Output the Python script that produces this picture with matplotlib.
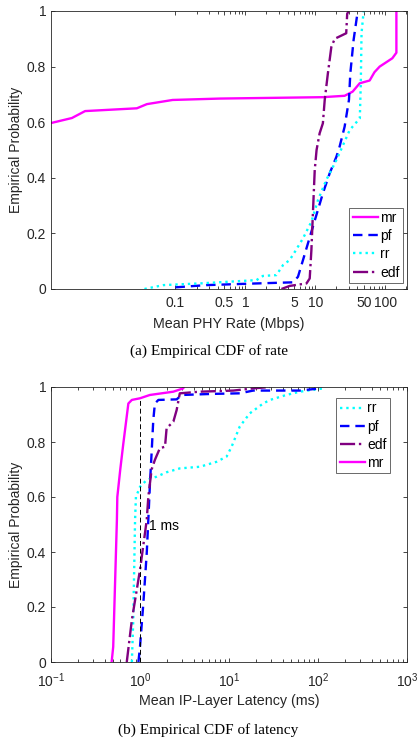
import numpy as np
import matplotlib
matplotlib.use("Agg")
import matplotlib.pyplot as plt
from matplotlib.ticker import FixedLocator, NullFormatter

plt.rcParams['font.family'] = ['Liberation Sans', 'DejaVu Sans']
plt.rcParams['mathtext.fontset'] = 'custom'
plt.rcParams['mathtext.rm'] = 'Liberation Sans'
plt.rcParams['mathtext.it'] = 'Liberation Sans:italic'

# ---- (a) rate CDF data (Mbps, probability) ----
rate_mr_x = [0.00166, 0.0033, 0.0051, 0.028, 0.039, 0.091, 0.43, 12.7, 26.2, 34.1, 43, 59.7, 70, 83, 126, 144, 144]
rate_mr_y = [0.597, 0.615, 0.64, 0.65, 0.665, 0.68, 0.685, 0.69, 0.695, 0.71, 0.74, 0.75, 0.78, 0.80, 0.83, 0.85, 1.0]
rate_pf_x = [0.1, 0.277, 1.44, 4.79, 5.64, 6.65, 8.77, 12.8, 16, 20, 22.2, 26.2, 30.2, 31.6, 35.2, 39.3, 42]
rate_pf_y = [0.006, 0.014, 0.02, 0.024, 0.044, 0.104, 0.206, 0.344, 0.416, 0.476, 0.512, 0.584, 0.68, 0.776, 0.896, 0.98, 1.0]
rate_rr_x = [0.036, 0.067, 0.22, 1.44, 1.78, 2.77, 3.45, 4.28, 5.1, 6.65, 8.77, 10.9, 14.3, 20, 31, 43.2, 44.6, 45.7, 49]
rate_rr_y = [0.0, 0.014, 0.02, 0.032, 0.047, 0.05, 0.086, 0.104, 0.134, 0.182, 0.242, 0.32, 0.392, 0.464, 0.572, 0.614, 0.74, 0.92, 1.0]
rate_edf_x = [3.27, 4.28, 7.46, 8.3, 8.77, 9.26, 9.79, 10.4, 11.5, 12.8, 13.6, 15.1, 16.9, 18.9, 27.6, 28.5, 30]
rate_edf_y = [0.0, 0.011, 0.02, 0.038, 0.14, 0.284, 0.428, 0.5, 0.56, 0.596, 0.68, 0.776, 0.87, 0.90, 0.92, 0.99, 1.0]

# ---- (b) latency CDF data (ms, probability) ----
lat_rr_x = [0.81, 0.84, 0.86, 0.88, 0.90, 1.0, 1.19, 1.54, 1.99, 2.8, 4.72, 7.25, 9.4, 10.7, 13.2, 17.1, 24.2, 28.9, 44, 62.8, 114, 118]
lat_rr_y = [0.0, 0.153, 0.335, 0.516, 0.60, 0.637, 0.662, 0.674, 0.69, 0.704, 0.71, 0.728, 0.747, 0.783, 0.856, 0.904, 0.94, 0.953, 0.971, 0.983, 0.995, 1.0]
lat_pf_x = [0.96, 1.0, 1.09, 1.19, 1.24, 1.29, 1.35, 1.41, 1.47, 1.61, 2.58, 2.94, 6.6, 13.2, 18.7, 62.8, 105, 110]
lat_pf_y = [0.0, 0.055, 0.213, 0.395, 0.516, 0.64, 0.76, 0.88, 0.94, 0.953, 0.955, 0.971, 0.975, 0.977, 0.987, 0.987, 0.995, 1.0]
lat_edf_x = [0.71, 0.81, 1.0, 1.19, 1.24, 1.35, 1.47, 1.67, 1.91, 1.99, 2.37, 2.58, 2.8, 4.72, 11.2, 18.7, 28.9]
lat_edf_y = [0.0, 0.153, 0.335, 0.516, 0.60, 0.70, 0.735, 0.777, 0.783, 0.85, 0.874, 0.916, 0.977, 0.983, 0.987, 0.995, 1.0]
lat_mr_x = [0.48, 0.50, 0.55, 0.556, 0.60, 0.65, 0.74, 0.81, 1.0, 1.29, 2.37, 3.06, 3.1]
lat_mr_y = [0.0, 0.055, 0.516, 0.60, 0.70, 0.795, 0.94, 0.953, 0.959, 0.971, 0.983, 0.995, 1.0]

rate_ticks = [0.1, 0.5, 1, 5, 10, 50, 100]
rate_ticklabels = ['0.1', '0.5', '1', '5', '10', '50', '100']
lat_ticks = [0.1, 1, 10, 100, 1000]
lat_ticklabels = ['$10^{-1}$', '$10^{0}$', '$10^{1}$', '$10^{2}$', '$10^{3}$']
prob_ticks = [0, 0.2, 0.4, 0.6, 0.8, 1]
prob_ticklabels = ['0', '0.2', '0.4', '0.6', '0.8', '1']

c_mr = '#ff00ff'
c_pf = '#0000ff'
c_rr = '#00ffff'
c_edf = '#800080'
gray = '#262626'
lw = 1.7

fig = plt.figure(figsize=(4.17, 7.39), dpi=100)
W, H = 417, 739


def style_axes(ax, xpad):
    ax.tick_params(which='both', direction='in', top=True, right=True,
                   colors=gray, labelsize=10, width=0.6)
    ax.tick_params(which='major', length=3)
    ax.tick_params(which='minor', length=2)
    ax.tick_params(axis='x', pad=xpad)
    for s in ax.spines.values():
        s.set_color(gray)
        s.set_linewidth(0.6)
    ax.set_ylim(0, 1)
    ax.set_yticks(prob_ticks)
    ax.set_yticklabels(prob_ticklabels)
    ax.set_ylabel('Empirical Probability', fontsize=10, color=gray, labelpad=3)


def add_legend(ax, loc, anchor):
    leg = ax.legend(loc=loc, bbox_to_anchor=anchor, bbox_transform=fig.transFigure,
                    fontsize=10, frameon=True, fancybox=False,
                    handlelength=1.8, handletextpad=0.15, borderpad=0.25,
                    labelspacing=0.3, borderaxespad=0.0)
    leg.get_frame().set_edgecolor(gray)
    leg.get_frame().set_linewidth(0.6)
    return leg


# ---------- (a) ----------
ax1 = fig.add_axes([51 / W, 1 - 289 / H, 356 / W, 278 / H])
ax1.set_xscale('log')
ax1.plot(rate_mr_x, rate_mr_y, '-', color=c_mr, lw=lw, label='mr')
ax1.plot(rate_pf_x, rate_pf_y, '--', color=c_pf, lw=lw, dashes=(4, 2.5), label='pf')
ax1.plot(rate_rr_x, rate_rr_y, ':', color=c_rr, lw=lw, label='rr')
ax1.plot(rate_edf_x, rate_edf_y, '-.', color=c_edf, lw=lw, label='edf')
ax1.set_xlim(10 ** -2.78, 10 ** 2.31)
ax1.xaxis.set_major_locator(FixedLocator(rate_ticks))
ax1.set_xticklabels(rate_ticklabels)
minor_a = [m * d for d in (0.1, 1, 10) for m in range(2, 10)] + [200]
ax1.xaxis.set_minor_locator(FixedLocator(minor_a))
ax1.xaxis.set_minor_formatter(NullFormatter())
style_axes(ax1, 5)
ax1.set_xlabel('Mean PHY Rate (Mbps)', fontsize=10.3, color=gray, labelpad=5)
add_legend(ax1, 'lower right', (403 / W, 1 - 283 / H))
fig.text(0.5, 1 - 351 / H, '(a) Empirical CDF of rate', ha='center', va='center',
         fontsize=11, family='Liberation Serif', color='black')

# ---------- (b) ----------
ax2 = fig.add_axes([51 / W, 1 - 662 / H, 356 / W, 275 / H])
ax2.set_xscale('log')
ax2.plot(lat_rr_x, lat_rr_y, ':', color=c_rr, lw=lw, label='rr')
ax2.plot(lat_pf_x, lat_pf_y, '--', color=c_pf, lw=lw, dashes=(4, 2.5), label='pf')
ax2.plot(lat_edf_x, lat_edf_y, '-.', color=c_edf, lw=lw, label='edf')
ax2.plot(lat_mr_x, lat_mr_y, '-', color=c_mr, lw=lw, label='mr')
ax2.plot([1, 1], [0, 0.96], '--', color='black', lw=0.7, dashes=(5, 3))
ax2.text(1.27, 0.495, '1 ms', fontsize=10, ha='left', va='center', color='black')
ax2.set_xlim(0.1, 1000)
ax2.xaxis.set_major_locator(FixedLocator(lat_ticks))
ax2.set_xticklabels(lat_ticklabels)
minor_b = [m * d for d in (0.1, 1, 10, 100) for m in range(2, 10)]
ax2.xaxis.set_minor_locator(FixedLocator(minor_b))
ax2.xaxis.set_minor_formatter(NullFormatter())
style_axes(ax2, 6.5)
ax2.set_xlabel('Mean IP-Layer Latency (ms)', fontsize=10.3, color=gray, labelpad=3)
add_legend(ax2, 'upper right', (390 / W, 1 - 398 / H))
fig.text(0.5, 1 - 730 / H, '(b) Empirical CDF of latency', ha='center', va='center',
         fontsize=11, family='Liberation Serif', color='black')

fig.savefig('out.png', dpi=100)
